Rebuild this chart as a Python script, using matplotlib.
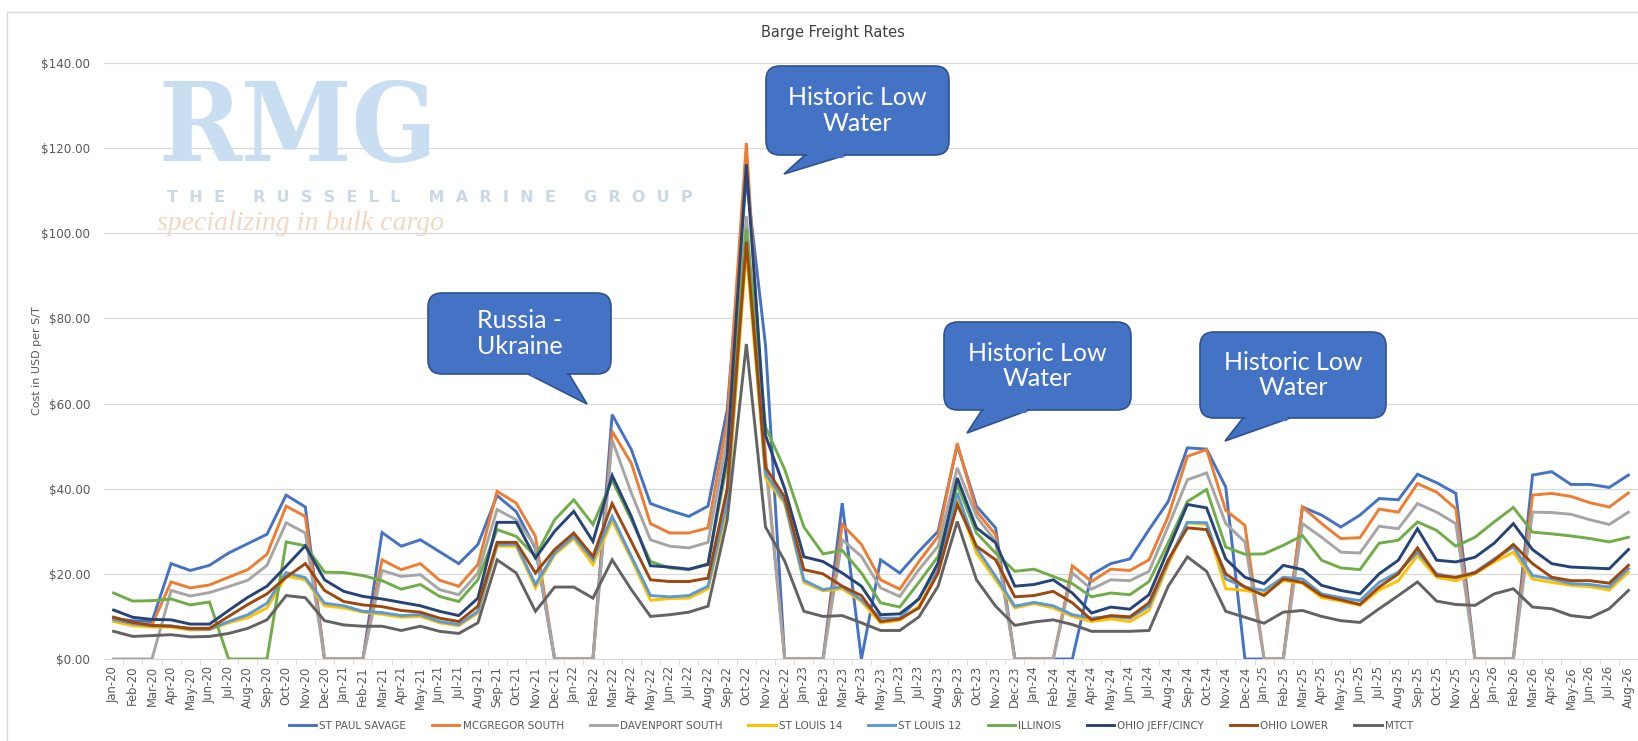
import matplotlib
matplotlib.use("Agg")
import matplotlib.pyplot as plt
from matplotlib.patches import FancyBboxPatch, Polygon
from matplotlib.transforms import IdentityTransform

# month labels Jan-20 .. Aug-26
month_names = ["Jan", "Feb", "Mar", "Apr", "May", "Jun", "Jul", "Aug", "Sep", "Oct", "Nov", "Dec"]
years = ["20", "21", "22", "23", "24", "25", "26"]
months = [f"{m}-{y}" for y in years for m in month_names][:80]

st_paul = [9.5, 9.0, 8.8, 22.4, 20.8, 22.0, 24.9, 27.1, 29.3, 38.5, 35.7, 0,
           0, 0, 29.7, 26.5, 28.0, 25.2, 22.4, 26.9, 38.4, 34.6, 26.0, 0,
           0, 0, 57.4, 49.2, 36.5, 34.9, 33.5, 35.9, 58.5, 113.0, 73.6, 0,
           0, 0, 36.6, 0, 23.3, 20.2, 25.3, 30.0, 50.2, 35.9, 30.8, 0,
           0, 0, 0, 19.8, 22.4, 23.5, 30.4, 37.0, 49.6, 49.3, 40.4, 0,
           0, 0, 35.7, 33.8, 31.0, 33.8, 37.7, 37.4, 43.4, 41.4, 38.9, 0,
           0, 0, 43.2, 44.0, 41.0, 41.0, 40.3, 43.2]
mcgregor = [9.8, 8.5, 8.0, 18.1, 16.7, 17.4, 19.2, 21.0, 24.6, 35.9, 33.5, 0,
            0, 0, 23.3, 21.0, 22.4, 18.5, 17.1, 22.2, 39.4, 36.6, 28.8, 0,
            0, 0, 53.5, 46.0, 31.8, 29.6, 29.6, 30.8, 56.0, 121.2, 47.5, 0,
            0, 0, 31.6, 26.9, 18.6, 16.4, 22.9, 28.8, 50.7, 34.7, 29.2, 0,
            0, 0, 21.9, 18.2, 21.1, 20.8, 23.3, 33.5, 47.6, 49.2, 34.9, 31.4,
            0, 0, 35.7, 31.8, 28.3, 28.5, 35.2, 34.5, 41.2, 39.2, 35.3, 0,
            0, 0, 38.5, 38.9, 38.2, 36.7, 35.7, 39.0]
davenport = [0, 0, 0, 16.1, 14.8, 15.6, 17.0, 18.5, 22.0, 32.0, 29.6, 0,
             0, 0, 20.8, 19.4, 19.8, 16.3, 15.1, 20.2, 35.1, 32.7, 26.5, 0,
             0, 0, 51.5, 39.0, 28.0, 26.5, 26.1, 27.4, 52.0, 104.0, 46.0, 0,
             0, 0, 28.0, 24.1, 16.7, 14.7, 21.0, 26.5, 44.9, 33.5, 27.6, 0,
             0, 0, 20.2, 16.4, 18.6, 18.4, 20.6, 31.2, 42.1, 43.7, 31.8, 27.5,
             0, 0, 31.8, 28.6, 25.1, 24.9, 31.2, 30.6, 36.5, 34.5, 31.8, 0,
             0, 0, 34.5, 34.4, 34.0, 32.7, 31.6, 34.5]
st_louis_14 = [8.8, 7.8, 7.5, 7.5, 6.8, 6.9, 8.5, 9.7, 12.0, 19.5, 18.6, 12.5,
               12.0, 11.0, 10.5, 9.8, 10.0, 8.5, 7.8, 10.8, 26.5, 26.5, 16.7, 24.5,
               28.3, 22.2, 32.5, 23.5, 13.8, 14.2, 14.3, 16.5, 35.5, 96.0, 42.5, 36.5,
               18.0, 16.0, 16.5, 13.5, 8.5, 9.1, 12.4, 20.6, 37.4, 24.9, 18.6, 12.0,
               13.0, 12.0, 10.0, 8.8, 9.4, 8.8, 11.4, 22.2, 32.0, 31.6, 16.5, 16.1,
               15.3, 18.4, 17.8, 14.4, 13.6, 12.6, 16.2, 18.4, 24.3, 19.2, 18.4, 20.0,
               22.8, 25.1, 18.8, 18.0, 17.3, 17.0, 16.2, 20.4]
st_louis_12 = [9.3, 8.3, 7.8, 7.8, 7.0, 7.0, 8.8, 10.4, 13.1, 20.3, 19.1, 13.1,
               12.5, 11.2, 10.9, 10.2, 10.4, 8.8, 8.1, 11.2, 26.9, 26.9, 17.5, 24.9,
               28.8, 23.3, 33.5, 24.1, 14.9, 14.6, 14.9, 17.1, 37.0, 100.0, 43.5, 37.0,
               18.5, 16.3, 17.0, 13.9, 9.6, 9.6, 14.3, 21.4, 39.0, 26.1, 19.4, 12.4,
               13.3, 12.5, 10.4, 9.6, 10.0, 9.6, 12.4, 22.9, 32.1, 32.0, 18.8, 16.9,
               16.1, 19.2, 18.8, 15.3, 14.4, 13.7, 18.0, 20.4, 25.1, 20.0, 19.1, 20.4,
               23.5, 26.3, 19.6, 18.8, 17.7, 17.5, 16.9, 21.2]
illinois = [15.5, 13.6, 13.7, 14.1, 12.7, 13.4, 0, 0, 0, 27.5, 26.6, 20.4,
            20.3, 19.6, 18.4, 16.4, 17.5, 14.7, 13.5, 18.6, 30.4, 28.8, 24.1, 32.7,
            37.4, 31.6, 42.0, 32.7, 22.9, 21.4, 21.0, 22.4, 46.0, 101.0, 54.5, 44.5,
            31.0, 24.7, 25.5, 20.2, 13.2, 12.2, 18.0, 24.1, 41.0, 29.6, 24.9, 20.6,
            21.1, 19.4, 17.7, 14.6, 15.5, 15.1, 18.2, 27.3, 37.0, 39.8, 26.3, 24.6,
            24.7, 26.7, 29.0, 23.2, 21.4, 21.0, 27.2, 27.9, 32.2, 30.2, 26.5, 28.6,
            32.2, 35.6, 29.8, 29.4, 28.9, 28.3, 27.5, 28.6]
ohio_jeff = [11.5, 9.8, 9.3, 9.2, 8.2, 8.2, 11.4, 14.5, 17.1, 21.8, 26.6, 18.6,
             15.9, 14.7, 14.1, 13.3, 12.5, 11.2, 10.2, 14.3, 32.1, 32.1, 23.7, 30.0,
             34.7, 27.6, 43.1, 33.5, 21.9, 21.6, 21.1, 22.2, 48.0, 116.2, 52.5, 40.0,
             24.0, 22.9, 20.2, 17.1, 10.4, 10.6, 14.1, 22.6, 42.5, 30.8, 27.3, 17.1,
             17.5, 18.6, 15.5, 10.8, 12.2, 11.7, 15.1, 25.7, 36.3, 35.5, 23.5, 19.2,
             17.7, 22.0, 21.0, 17.3, 16.1, 15.3, 20.0, 23.2, 30.6, 23.2, 22.8, 23.9,
             27.2, 31.8, 25.7, 22.4, 21.6, 21.4, 21.2, 25.7]
ohio_lower = [9.8, 8.6, 7.9, 7.7, 7.2, 7.2, 10.0, 12.8, 15.3, 19.2, 22.4, 16.1,
              13.5, 12.7, 12.3, 11.4, 11.0, 9.6, 8.8, 12.4, 27.4, 27.4, 20.2, 25.7,
              29.6, 24.1, 36.5, 27.6, 18.6, 18.2, 18.2, 19.0, 40.0, 98.0, 45.0, 38.0,
              21.0, 20.0, 17.1, 14.9, 8.8, 9.4, 12.0, 20.2, 36.3, 26.5, 23.3, 14.6,
              14.9, 15.9, 13.2, 9.2, 10.2, 9.9, 13.2, 23.3, 30.8, 30.4, 20.0, 16.9,
              14.9, 18.8, 18.0, 14.9, 13.9, 12.8, 16.9, 20.0, 26.1, 19.6, 19.2, 20.2,
              23.2, 26.9, 22.4, 19.2, 18.4, 18.4, 17.8, 22.0]
mtct = [6.5, 5.3, 5.5, 5.7, 5.2, 5.3, 6.0, 7.2, 9.2, 14.9, 14.4, 9.0,
        8.0, 7.7, 7.7, 6.7, 7.7, 6.5, 6.0, 8.5, 23.3, 20.2, 11.2, 16.9,
        16.9, 14.3, 23.3, 16.3, 10.0, 10.4, 11.0, 12.4, 32.7, 74.0, 31.0, 23.0,
        11.2, 10.0, 10.2, 8.5, 6.7, 6.7, 9.9, 17.1, 32.3, 18.6, 12.4, 7.9,
        8.7, 9.2, 8.1, 6.5, 6.5, 6.5, 6.7, 17.1, 24.0, 20.6, 11.2, 9.8,
        8.4, 11.0, 11.4, 10.0, 9.0, 8.6, 11.8, 14.9, 18.1, 13.6, 12.8, 12.6,
        15.3, 16.5, 12.2, 11.8, 10.2, 9.7, 11.8, 16.1]

series_names = ["ST PAUL SAVAGE", "MCGREGOR SOUTH", "DAVENPORT SOUTH", "ST LOUIS 14",
                "ST LOUIS 12", "ILLINOIS", "OHIO JEFF/CINCY", "OHIO LOWER", "MTCT"]
series_values = [st_paul, mcgregor, davenport, st_louis_14, st_louis_12,
                 illinois, ohio_jeff, ohio_lower, mtct]
colors = ["#4472C4", "#ED7D31", "#A5A5A5", "#FFC000", "#5B9BD5",
          "#70AD47", "#264478", "#9E480E", "#636363"]

W, H = 1638, 741
fig = plt.figure(figsize=(W / 100, H / 100), dpi=100)
fig.patch.set_facecolor("white")

# chart border (left / top visible)
fig.add_artist(plt.Line2D([7 / W, 7 / W], [0, 1 - 12 / H], color="#D9D9D9", lw=1))
fig.add_artist(plt.Line2D([7 / W, 1], [1 - 12 / H, 1 - 12 / H], color="#D9D9D9", lw=1))

ax = fig.add_axes([104 / W, 1 - 659 / H, (W - 104) / W, (659 - 63) / H])
ax.patch.set_alpha(0)

x = list(range(len(months)))
for name, vals, c in zip(series_names, series_values, colors):
    ax.plot(x, vals, color=c, lw=2.1, label=name, zorder=3, solid_joinstyle="miter")

ax.set_xlim(-0.5, len(months) - 0.5)
ax.set_ylim(0, 140)
ax.set_yticks(range(0, 141, 20))
ax.set_yticklabels([f"${v:.2f}" for v in range(0, 141, 20)])
ax.grid(axis="y", color="#D9D9D9", lw=0.9, zorder=0)
for s in ["top", "right", "left"]:
    ax.spines[s].set_visible(False)
ax.spines["bottom"].set_color("#D9D9D9")
ax.set_xticks(x)
ax.set_xticklabels(months, rotation=90)
ax.set_xticks([i + 0.5 for i in x[:-1]], minor=True)
ax.tick_params(axis="x", which="major", length=0, pad=5, labelsize=8.4, labelcolor="#595959")
ax.tick_params(axis="x", which="minor", length=4, color="#D9D9D9")
ax.tick_params(axis="y", length=0, pad=10, labelsize=8.6, labelcolor="#595959")

fig.text(37 / W, 1 - 361 / H, "Cost in USD per S/T", rotation=90, ha="center", va="center",
         fontsize=8, color="#595959")
fig.text(833 / W, 1 - 33 / H, "Barge Freight Rates", ha="center", va="center",
         fontsize=10.5, color="#404040")

# watermark logo
fig.text(158 / W, 1 - 161 / H, "RMG", fontsize=80, family="DejaVu Serif", fontweight="bold",
         fontstretch="condensed", color="#C9DFF1", ha="left", va="baseline", zorder=1)
fig.text(167 / W, 1 - 197 / H,
         "T  H  E     R  U  S  S  E  L  L     M  A  R  I  N  E     G  R  O  U  P",
         fontsize=11.5, fontweight="bold", color="#CBD9E6", ha="left", va="center", zorder=1)
fig.text(157 / W, 1 - 224 / H, "specializing in bulk cargo", fontsize=20, style="italic",
         family="Liberation Serif", color="#F2D8C2", ha="left", va="center", zorder=1)

leg = fig.legend(loc="center", bbox_to_anchor=(851 / W, 1 - 726 / H), ncol=9, frameon=False,
                 fontsize=7.5, handlelength=2.6, columnspacing=2.5, handletextpad=0.3)
for t in leg.get_texts():
    t.set_color("#595959")

# callouts (pixel coords, origin top-left)
def callout(x0, y0, x1, y1, base, tip, text):
    tr = IdentityTransform()
    tail = Polygon([(base[0], H - y1), (base[1], H - y1), (tip[0], H - tip[1])], closed=True,
                   transform=tr, fc="#4472C4", ec="#2F528F", lw=1.2, zorder=6)
    box = FancyBboxPatch((x0, H - y1), x1 - x0, y1 - y0,
                         boxstyle="round,pad=0,rounding_size=14", transform=tr,
                         fc="#4472C4", ec="#2F528F", lw=1.2, zorder=6)
    cover = Polygon([(base[0] + 1.5, H - y1 + 3), (base[1] - 1.5, H - y1 + 3),
                     (base[1] - 3, H - y1 - 3), (base[0] + 3, H - y1 - 3)], closed=True,
                    transform=tr, fc="#4472C4", ec="none", zorder=7)
    fig.add_artist(box)
    fig.add_artist(tail)
    fig.add_artist(cover)
    fig.text((x0 + x1) / 2 / W, 1 - (y0 + y1) / 2 / H, text, ha="center", va="center",
             color="white", fontsize=18, family="Lato", linespacing=1.15, zorder=8)

callout(428, 293, 611, 374, (528, 569), (587, 404), "Russia -\nUkraine")
callout(766, 66, 949, 155, (805, 846), (784, 174), "Historic Low\nWater")
callout(944, 322, 1131, 410, (982, 1029), (967, 433), "Historic Low\nWater")
callout(1200, 332, 1386, 418, (1243, 1290), (1225, 441), "Historic Low\nWater")

fig.savefig("out.png", dpi=100)
